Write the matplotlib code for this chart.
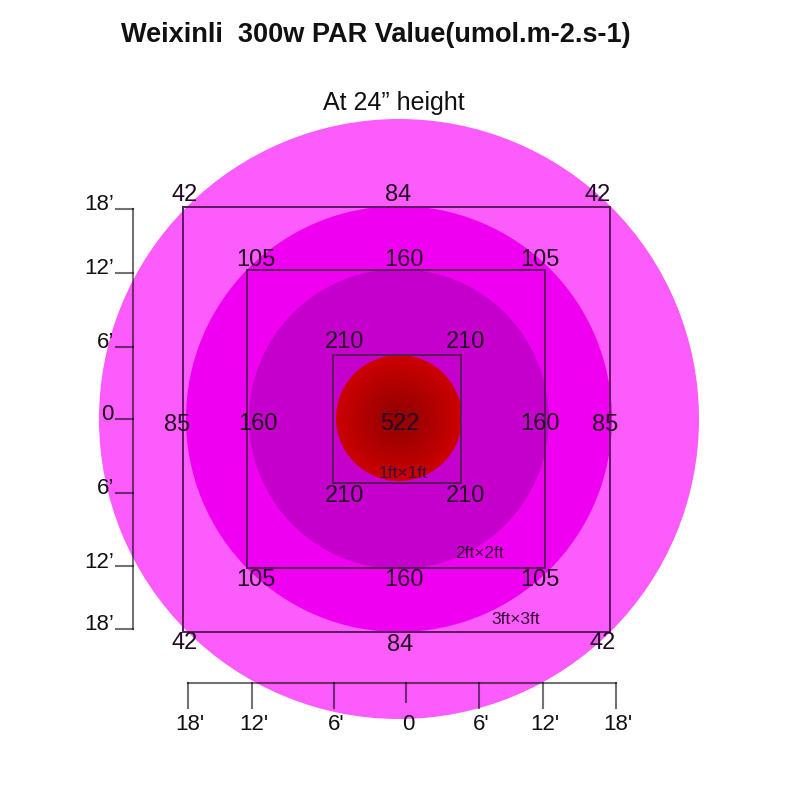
import numpy as np
import matplotlib
matplotlib.use('Agg')
from matplotlib import pyplot as plt
from matplotlib.patches import Circle, Rectangle

plt.rcParams['font.family'] = ['Liberation Sans', 'DejaVu Sans']

# ############################ DANE ############################ #
title = 'Weixinli  300w PAR Value(umol.m-2.s-1)'
subtitle = 'At 24\u201d height'

# wartosci PAR: rogi gora, srodek gora, boki, rogi dol, srodek dol
outer_vals = ['42', '84', '42', '85', '85', '42', '84', '42']
mid_vals = ['105', '160', '105', '160', '160', '105', '160', '105']
inner_vals = ['210', '210', '210', '210']
center_val = '522'
box_names = ['1ft\u00d71ft', '2ft\u00d72ft', '3ft\u00d73ft']

left_ticks = ['18\u2019', '12\u2019', '6\u2019', '0', '6\u2019', '12\u2019', '18\u2019']
bottom_ticks = ["18'", "12'", "6'", '0', "6'", "12'", "18'"]

# ############################ UKLAD (piksele) ############################ #
cx, cy = 399, 419
radii = [300, 213, 150, 63]
ring_colors = ['#fb5cfb', '#f000f0', '#c600cc']

boxes = [(333, 355, 461, 483), (247, 270, 545, 568), (183, 207, 610, 632)]
box_label_pos = [(403, 473), (479, 553), (516, 620)]

outer_pos = [(185, 195), (398, 195), (598, 195), (177, 425), (605, 425),
             (185, 643), (400, 645), (603, 643)]
mid_pos = [(256, 260), (404, 260), (540, 260), (258, 424), (540, 424),
           (256, 580), (404, 580), (540, 580)]
inner_pos = [(345, 342), (466, 342), (345, 496), (466, 496)]

left_y = [209, 273, 347, 419, 493, 566, 629]
bottom_x = [188, 252, 334, 406, 479, 543, 616]

# ############################ RYSOWANIE ############################ #
fig = plt.figure(figsize=(8, 7.96), dpi=100)
ax = fig.add_axes([0, 0, 1, 1])
ax.set_xlim(0, 800)
ax.set_ylim(796, 0)
ax.axis('off')

for r, c in zip(radii[:3], ring_colors):
    ax.add_patch(Circle((cx, cy), r, color=c, lw=0, zorder=1))

# czerwone kolo z gradientem
rr = radii[3]
gx, gy = np.meshgrid(np.linspace(-1, 1, 200), np.linspace(-1, 1, 200))
dist = np.sqrt(gx ** 2 + gy ** 2)
grad = np.zeros((200, 200, 3))
grad[..., 0] = np.clip(0.56 + 0.24 * dist, 0, 0.8)
img = ax.imshow(grad, extent=(cx - rr, cx + rr, cy + rr, cy - rr), zorder=2, interpolation='bilinear')
clip = Circle((cx, cy - 1), rr, transform=ax.transData)
img.set_clip_path(clip)

for (x0, y0, x1, y1) in boxes:
    ax.add_patch(Rectangle((x0, y0), x1 - x0, y1 - y0, fill=False, ec='#5a1a5e', lw=1.4, zorder=3))

num_kw = dict(ha='center', va='center', fontsize=17, color='#220a22', zorder=4)
for t, (x, y) in zip(outer_vals, outer_pos):
    ax.text(x, y, t, **num_kw)
for t, (x, y) in zip(mid_vals, mid_pos):
    ax.text(x, y, t, **num_kw)
for t, (x, y) in zip(inner_vals, inner_pos):
    ax.text(x, y, t, **num_kw)
ax.text(cx + 1, 424, center_val, **num_kw)
for t, (x, y) in zip(box_names, box_label_pos):
    ax.text(x, y, t, ha='center', va='center', fontsize=12.5, color='#3a0a3a', zorder=4)

# os lewa
line_c = (0, 0, 0, 0.55)
ax.plot([133, 133], [left_y[0], left_y[-1]], color=line_c, lw=1.5, zorder=5)
for y, t in zip(left_y, left_ticks):
    ax.plot([116, 133], [y, y], color=line_c, lw=1.5, zorder=5)
    ax.text(114, y - 4, t, ha='right', va='center', fontsize=16, color='#111111')

# os dolna
ax.plot([bottom_x[0], bottom_x[-1]], [683, 683], color=line_c, lw=1.5, zorder=5)
for i, (x, t) in enumerate(zip(bottom_x, bottom_ticks)):
    y_end = 702 if t == '0' else 708
    ax.plot([x, x], [683, y_end], color=line_c, lw=1.5, zorder=5)
    ax.text(x + 2, 724, t, ha='center', va='center', fontsize=16, color='#111111')

ax.text(376, 35, title, ha='center', va='center', fontsize=19.5, fontweight='bold', color='#111111')
ax.text(394, 103, subtitle, ha='center', va='center', fontsize=18, color='#111111')

fig.savefig('out.png', dpi=100)
